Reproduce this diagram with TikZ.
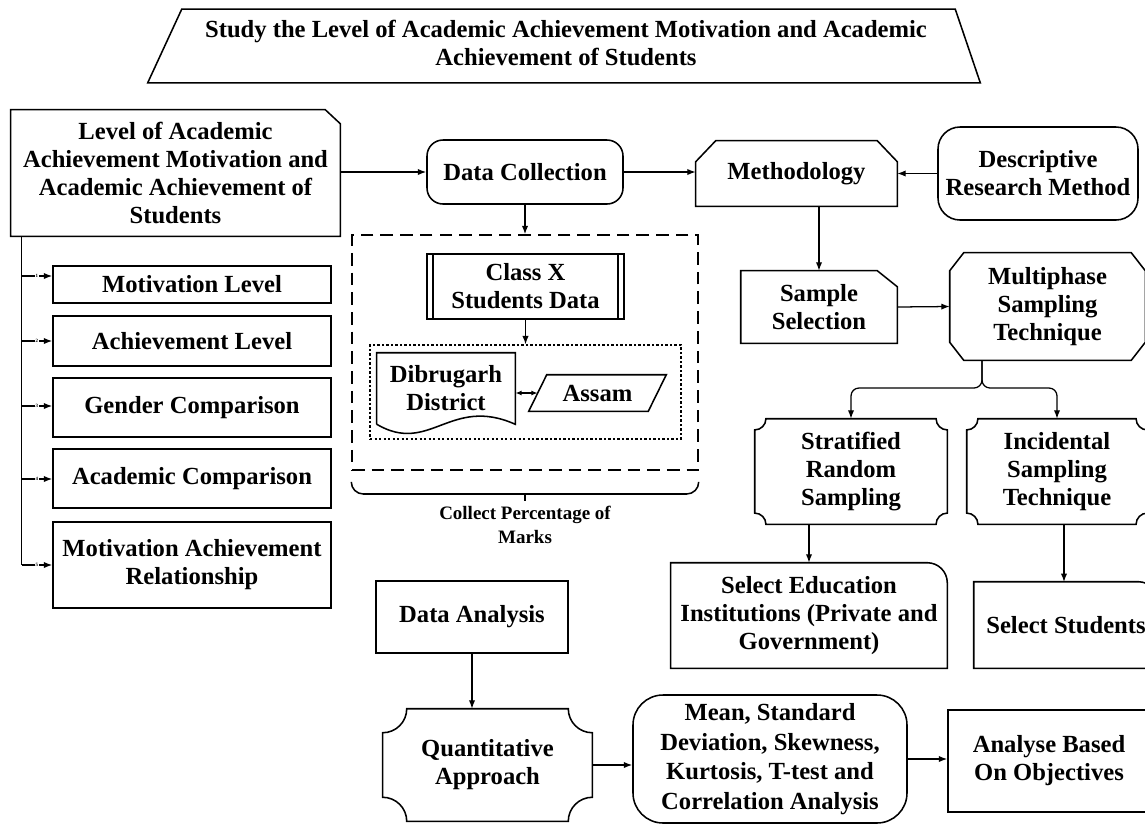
\documentclass[tikz,border=0pt]{standalone}
\usepackage{fontspec}
\setmainfont{Liberation Serif}
\usetikzlibrary{calc,positioning,arrows.meta}

\tikzset{
  sz/.style 2 args={minimum width=#1*0.025cm, minimum height=#2*0.025cm},
  txt/.style={align=center, inner sep=1pt, font=\bfseries\fontsize{17.5}{20}\selectfont},
  box/.style={txt, draw, line width=1.1pt},
  link/.style={line width=0.9pt, -{Latex[length=6pt,width=4.5pt]}},
  twoway/.style={line width=0.9pt, {Latex[length=4.5pt,width=3.5pt]}-{Latex[length=4.5pt,width=3.5pt]}},
  num/.style={fill=white, inner sep=0.3pt, font=\bfseries\fontsize{3.5}{4}\selectfont},
}

% outlines drawn round plain nodes
\newcommand{\snipNE}[3]{\draw[line width=1.1pt] (#1.south west) -- (#1.north west) -- ($(#1.north east)+(-#2,0)$) -- ($(#1.north east)+(0,#3)$) -- (#1.south east) -- cycle;}
\newcommand{\topcut}[3]{\draw[line width=1.1pt] (#1.south west) -- ($(#1.north west)+(0,#3)$) -- ($(#1.north west)+(#2,0)$) -- ($(#1.north east)+(-#2,0)$) -- ($(#1.north east)+(0,#3)$) -- (#1.south east) -- cycle;}
\newcommand{\octo}[3]{\draw[line width=1.1pt] ($(#1.north west)+(#2,0)$) -- ($(#1.north east)+(-#2,0)$) -- ($(#1.north east)+(0,#3)$) -- ($(#1.south east)+(0,-#3)$) -- ($(#1.south east)+(-#2,0)$) -- ($(#1.south west)+(#2,0)$) -- ($(#1.south west)+(0,-#3)$) -- ($(#1.north west)+(0,#3)$) -- cycle;}
\newcommand{\plaque}[2]{\draw[line width=1.1pt] ($(#1.north west)+(#2,0)$) -- ($(#1.north east)-(#2,0)$) arc[start angle=180,end angle=270,radius=#2] -- ($(#1.south east)+(0,#2)$) arc[start angle=90,end angle=180,radius=#2] -- ($(#1.south west)+(#2,0)$) arc[start angle=0,end angle=90,radius=#2] -- ($(#1.north west)-(0,#2)$) arc[start angle=270,end angle=360,radius=#2] -- cycle;}
\newcommand{\rndNE}[2]{\draw[line width=1.1pt] (#1.south west) -- (#1.north west) -- ($(#1.north east)-(#2,0)$) arc[start angle=90,end angle=0,radius=#2] -- (#1.south east) -- cycle;}
\newcommand{\docshape}[1]{\draw[line width=1.1pt] (#1.south west) -- (#1.north west) -- (#1.north east) -- (#1.south east) .. controls +(-65,-29) and +(53,31) .. (#1.south west);}
\newcommand{\slanted}[2]{\draw[line width=1.1pt] ($(#1.north west)+(#2,0)$) -- ($(#1.north east)+(#2,0)$) -- ($(#1.south east)-(#2,0)$) -- ($(#1.south west)-(#2,0)$) -- cycle;}

\begin{document}
\begin{tikzpicture}[x=0.025cm, y=-0.025cm]
  \useasboundingbox (0,0) rectangle (1145,824);
  \clip (0,0) rectangle (1145,824);

  % title
  \node [txt, sz={802}{73}] at (566,43) (title) {Study the Level of Academic Achievement Motivation and Academic\\Achievement of Students};
  \draw[line width=1.1pt] ($(title.north west)+(17,3)$) -- ($(title.north east)+(-12,3)$) -- ($(title.south east)+(13,3)$) -- ($(title.south west)+(-17,3)$) -- cycle;

  % left column
  \node [txt, sz={329}{126}] at (175.5,173) (lvl) {Level of Academic\\Achievement Motivation and\\Academic Achievement of\\Students};
  \snipNE{lvl}{15}{14}

  \node [box, sz={278}{37}] at (192,284.5) (m1) {Motivation Level};
  \node [box, sz={278}{50}] at (192,341) (m2) {Achievement Level};
  \node [box, sz={278}{59}] at (192,407.5) (m3) {Gender Comparison};
  \node [box, sz={278}{59}] at (192,478.5) (m4) {Academic Comparison};
  \node [box, sz={278}{86}] at (192,565) (m5) {Motivation Achievement\\Relationship};

  \coordinate (spine) at ($(lvl.south west)+(11,0)$);
  \draw[line width=0.9pt] (spine) -- (spine |- 0,565);
  \foreach \i/\ay in {1/276,2/341,3/406,4/479,5/565}
  {
    \draw[link] (spine |- 0,\ay) -- node[num] {\i} (m\i.west |- 0,\ay);
  }

  % data collection
  \node [box, sz={196}{64}, rounded corners=0.4cm] at (525,172) (dc) {Data Collection};
  \node [draw, dashed, dash pattern=on 9pt off 5pt, line width=1pt, sz={346}{235}] at (525,352.5) (dcbox) {};
  \node [box, sz={197}{65}] at (525.5,286.5) (classx) {Class X\\Students Data};
  \draw[line width=1.1pt] ($(classx.north west)+(7,0)$) -- ($(classx.south west)+(7,0)$)
    ($(classx.north east)+(-7,0)$) -- ($(classx.south east)+(-7,0)$);
  \node [draw, dash pattern=on 1.6pt off 1.6pt, line width=0.9pt, sz={311}{94}] at (525.5,392) (dotbox) {};
  \node [txt, sz={138}{71}] at (446,388.5) (dib) {Dibrugarh\\District};
  \docshape{dib}
  \node [txt, sz={119}{36}] at (597.5,393) (assam) {Assam};
  \slanted{assam}{9}

  \coordinate (brk) at (525,494);
  \draw[line width=1.1pt, rounded corners=0.3cm] ($(dcbox.south west)+(0,12)$) |- (brk) -| ($(dcbox.south east)+(0,12)$);
  \node [align=center, font=\bfseries\fontsize{13.5}{17}\selectfont] at (525,525) (note) {Collect Percentage of\\Marks};
  \draw[line width=1.1pt] (brk) -- (note.north);

  % methodology branch
  \node [txt, sz={201}{65}] at (796.5,173.5) (meth) {Methodology};
  \topcut{meth}{20}{21}
  \node [box, sz={200}{93}, rounded corners=0.55cm] at (1038,173.5) (drm) {Descriptive\\Research Method};
  \node [txt, sz={156}{72}] at (819,307) (samp) {Sample\\Selection};
  \snipNE{samp}{20}{16}
  \node [txt, sz={195}{107}] at (1047.5,306.5) (multi) {Multiphase\\Sampling\\Technique};
  \octo{multi}{14}{18}
  \node [txt, sz={192}{105}] at (851,471.5) (strat) {Stratified\\Random\\Sampling};
  \plaque{strat}{0.28cm}
  \node [txt, sz={180}{105}] at (1057,471.5) (incid) {Incidental\\Sampling\\Technique};
  \plaque{incid}{0.28cm}
  \node [txt, sz={276}{105}] at (809,615.5) (selinst) {Select Education\\Institutions (Private and\\Government)};
  \rndNE{selinst}{0.5cm}
  \node [txt, sz={184}{86}] at (1066,625) (selstu) {Select Students};
  \rndNE{selstu}{0.5cm}

  % analysis
  \node [box, sz={192}{72}] at (472,617) (da) {Data Analysis};
  \node [txt, sz={209}{112}] at (487.5,765) (quant) {Quantitative\\Approach};
  \plaque{quant}{0.6cm}
  \node [txt, sz={274}{128}, font=\bfseries\fontsize{17.5}{21}\selectfont, draw, line width=1.1pt, rounded corners=0.75cm] at (770,759) (mean) {Mean, Standard\\Deviation, Skewness,\\Kurtosis, T-test and\\Correlation Analysis};
  \node [box, sz={202}{102}] at (1049,761) (anal) {Analyse Based\\On Objectives};

  % connectors
  \draw[link] (lvl.east |- dc.west) -- (dc.west);
  \draw[link] (dc.east) -- (meth.west |- dc.east);
  \draw[link] (drm.west) -- (meth.east);
  \draw[link] (dc.south) -- (dcbox.north);
  \draw[link] (classx.south) -- (dotbox.north);
  \draw[twoway] (dib.east |- assam) -- (assam.west);
  \draw[link] (samp.north |- meth.south) -- (samp.north);
  \draw[link] (samp.east) -- (multi.west);
  \coordinate (split) at (982,388);
  \draw[link, rounded corners=0.2cm] (split |- multi.south) |- (strat.north |- split) -- (strat.north);
  \draw[link, rounded corners=0.2cm] (split |- multi.south) |- (incid.north |- split) -- (incid.north);
  \draw[link] (selinst.north |- strat.south) -- (selinst.north);
  \draw[link] (1064,524) -- (1064,582);
  \draw[link] (da.south) -- (da.south |- quant.north);
  \draw[link] (quant.east) -- (mean.west |- quant.east);
  \draw[link] (mean.east) -- (anal.west |- mean.east);

\end{tikzpicture}
\end{document}
